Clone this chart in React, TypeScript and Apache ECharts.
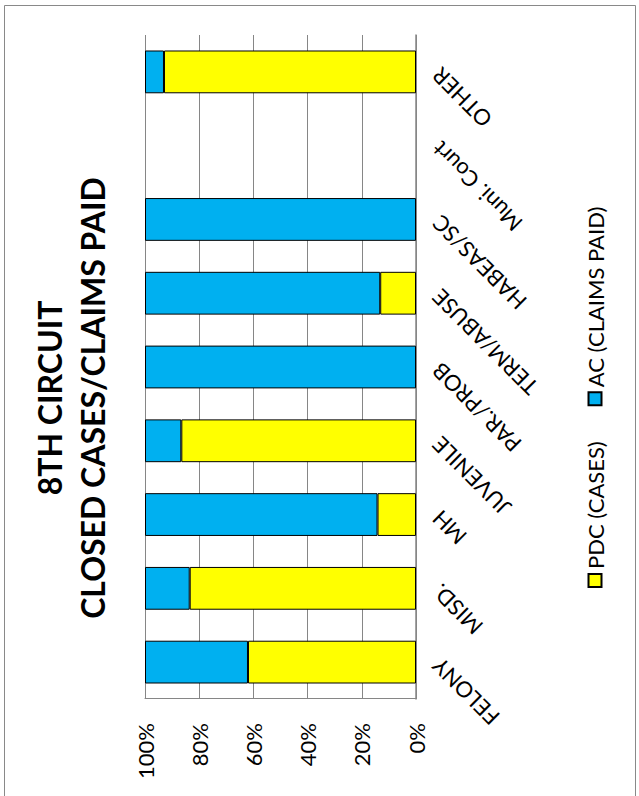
import React, { useEffect, useRef } from "react";
import * as echarts from "echarts";

const categories = ["FELONY", "MISD.", "MH", "JUVENILE", "PAR./PROB", "TERM/ABUSE", "HABEAS/SC", "Muni. Court", "OTHER"];
const pdcCases = [62.0, 83.5, 14.2, 86.6, 0, 13.2, 0, 0, 93.0];
const acClaimsPaid = [38.0, 16.5, 85.8, 13.4, 100, 86.8, 100, 0, 7.0];
const valueTicks = [0, 20, 40, 60, 80, 100];
const seriesNames = ["PDC (CASES)", "AC (CLAIMS PAID)"];
const titleLines = ["8TH CIRCUIT", "CLOSED CASES/CLAIMS PAID"];

const FONT = "Lato";

export default function App() {
  const ref = useRef<HTMLDivElement>(null);
  useEffect(() => {
    if (!ref.current) return;
    const chart = echarts.init(ref.current, null, { renderer: "svg" });
    const toData = (arr: number[]) => arr.map((v) => (v === 0 ? "-" : v));
    chart.setOption({
      animation: false,
      backgroundColor: "#ffffff",
      title: {
        text: titleLines.join("\n"),
        left: "center",
        top: 23,
        textStyle: { fontFamily: FONT, fontWeight: "bold", fontSize: 32, lineHeight: 43, color: "#000" },
      },
      legend: {
        left: 203,
        top: 579,
        itemWidth: 13,
        itemHeight: 13,
        itemGap: 35,
        icon: "rect",
        data: seriesNames,
        textStyle: { fontFamily: FONT, fontSize: 22, color: "#000" },
      },
      grid: { left: 97, right: 35, top: 145, bottom: 223, containLabel: false },
      xAxis: {
        type: "category",
        data: categories,
        axisLine: { show: true, lineStyle: { color: "#868686", width: 1.5 } },
        axisTick: { show: false },
        axisLabel: { rotate: 45, interval: 0, margin: 20, fontFamily: FONT, fontSize: 22, color: "#000" },
      },
      yAxis: {
        type: "value",
        min: valueTicks[0],
        max: valueTicks[valueTicks.length - 1],
        interval: 20,
        axisLine: { show: true, lineStyle: { color: "#868686", width: 1 } },
        axisTick: { show: false },
        axisLabel: { formatter: "{value}%", margin: 24, fontFamily: FONT, fontSize: 22, color: "#000" },
        splitLine: { show: true, lineStyle: { color: "#868686", width: 1 } },
      },
      series: [
        {
          name: seriesNames[0],
          type: "bar",
          stack: "total",
          barCategoryGap: "42%",
          data: toData(pdcCases),
          itemStyle: { color: "#FFFF00", borderColor: "#000", borderWidth: 1 },
        },
        {
          name: seriesNames[1],
          type: "bar",
          stack: "total",
          barCategoryGap: "42%",
          data: toData(acClaimsPaid),
          itemStyle: { color: "#00B0F0", borderColor: "#000", borderWidth: 1 },
        },
      ],
      graphic: [
        {
          type: "rect",
          silent: true,
          shape: { x: -10, y: 4.5, width: 800.5, height: 631 },
          style: { fill: "none", stroke: "#898989", lineWidth: 1 },
        },
      ],
    });
    return () => chart.dispose();
  }, []);

  return (
    <div style={{ position: "fixed", left: 0, top: 0, width: 639, height: 796, overflow: "hidden", background: "#fff" }}>
      <div
        ref={ref}
        style={{
          position: "absolute",
          left: 0,
          top: 0,
          width: 796,
          height: 639,
          transformOrigin: "0 0",
          transform: "translateY(796px) rotate(-90deg)",
        }}
      />
    </div>
  );
}
